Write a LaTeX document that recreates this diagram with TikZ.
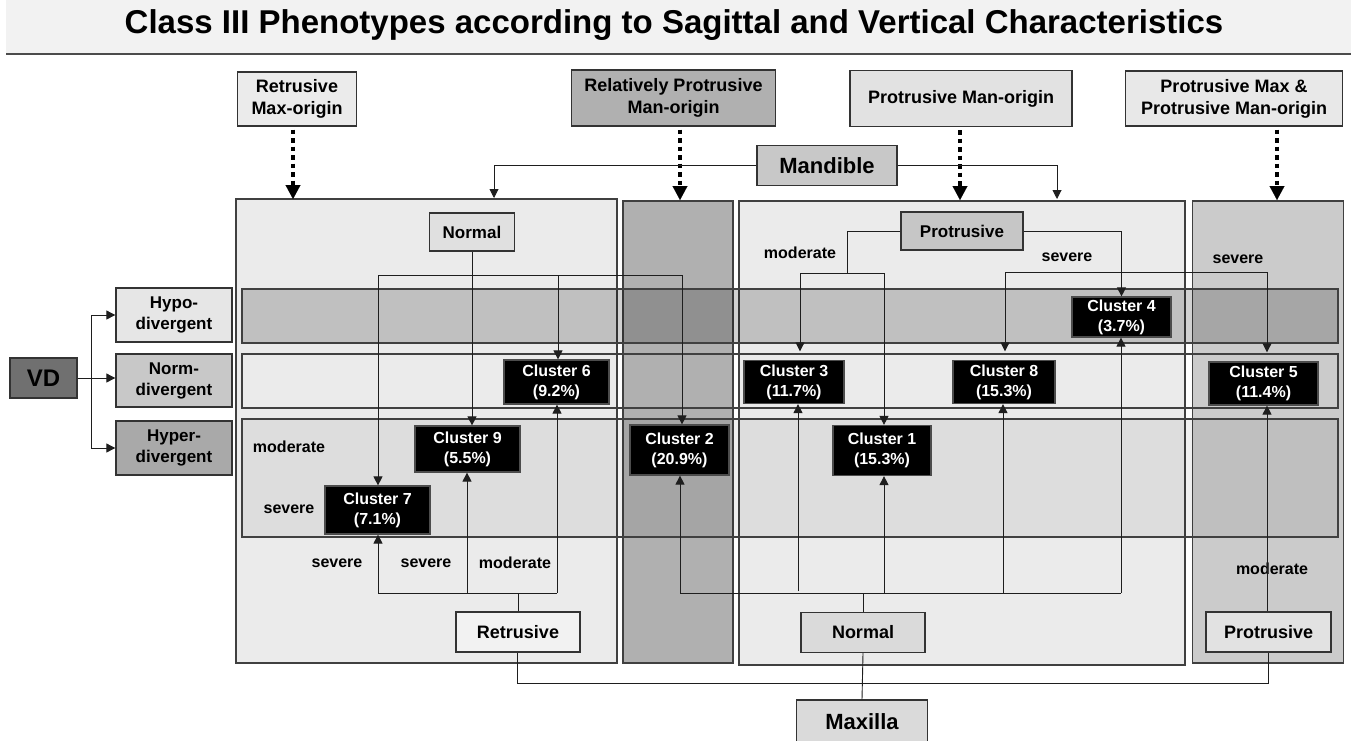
\documentclass[tikz,border=0pt]{standalone}
\usepackage{fontspec}
\setmainfont{Liberation Sans}
\usetikzlibrary{arrows.meta}
\definecolor{titlebg}{HTML}{F2F2F2}
\definecolor{cA}{HTML}{EBEBEB}
\definecolor{cB}{HTML}{B0B0B0}
\definecolor{cC}{HTML}{CBCBCB}
\definecolor{cD}{HTML}{E2E2E2}
\definecolor{cE}{HTML}{E8E8E8}
\definecolor{cMand}{HTML}{C8C8C8}
\definecolor{cNt}{HTML}{E0E0E0}
\definecolor{cPt}{HTML}{C6C6C6}
\definecolor{cRb}{HTML}{F2F2F2}
\definecolor{cNb}{HTML}{DADADA}
\definecolor{cPb}{HTML}{E2E2E2}
\definecolor{cVD}{HTML}{707070}
\definecolor{cHypo}{HTML}{E6E6E6}
\definecolor{cNorm}{HTML}{C8C8C8}
\definecolor{cHyper}{HTML}{A9A9A9}
\definecolor{lineC}{HTML}{1E1E1E}
\tikzset{
  bx/.style={draw=black!80, line width=1.3pt, inner sep=0pt, align=center, text=black,
    font=\bfseries\fontsize{18}{22}\selectfont},
  cl/.style={draw=black!70, line width=1.2pt, fill=black, text=white, inner sep=0pt, align=center,
    font=\bfseries\fontsize{16}{20}\selectfont},
  pnl/.style={draw=black!75, line width=1.5pt, inner sep=0pt},
  band/.style={draw=black!75, line width=1.4pt, inner sep=0pt},
  lbl/.style={font=\bfseries\fontsize{16}{19}\selectfont, inner sep=0pt, text=black},
  arr/.style={draw=lineC, line width=0.9pt, -{Triangle[length=9pt,width=9pt]}},
  ln/.style={draw=lineC, line width=0.9pt},
  dotarr/.style={draw=black, line width=4.5pt, dash pattern=on 4.5pt off 4pt, shorten <=3pt,
    -{Triangle[length=14pt,width=15pt,line width=0.1pt]}},
  sz/.style 2 args={minimum width=#1pt, minimum height=#2pt},
}
\begin{document}
\begin{tikzpicture}[x=1pt,y=-1pt]
\useasboundingbox (0,0) rectangle (1351,740);
% title
\fill[titlebg] (6,0) rectangle (1351,53);
\draw[line width=2pt, black!70] (6,54) -- (1351,54);
\node[font=\bfseries\fontsize{33}{37}\selectfont, inner sep=0pt] (title) at (674,25)
  {Class III Phenotypes according to Sagittal and Vertical Characteristics};

% panels
\node[pnl, fill=cA, sz={381}{464}] (lp) at (426.5,431) {};
\node[pnl, fill=cB, sz={110}{462}] (mc) at (678,432) {};
\node[pnl, fill=cA, sz={446}{464}] (cp) at (962,433) {};
\node[pnl, fill=cC, sz={151}{462}] (rp) at (1268,432) {};

% bands
\node[band, fill=black, fill opacity=0.18, sz={1096}{54}] (hypoB) at (790,316) {};
\node[band, sz={1096}{54}] (normB) at (790,381) {};
\node[band, fill=black, fill opacity=0.06, sz={1096}{118}] (hyperB) at (790,478) {};

% top boxes
\node[bx, fill=cA, sz={119}{54}] (rmax) at (297,99) {Retrusive\\Max-origin};
\node[bx, fill=cB, sz={204}{56}] (rpman) at (673.5,98) {Relatively Protrusive\\Man-origin};
\node[bx, fill=cD, sz={222}{56}] (pman) at (961,98.5) {Protrusive Man-origin};
\node[bx, fill=cE, sz={217}{55}] (pmax) at (1234,98.5) {Protrusive Max \&\\Protrusive Man-origin};

\node[bx, fill=cMand, sz={140}{40}, font=\bfseries\fontsize{22}{26}\selectfont] (mand) at (827,165.5) {Mandible};

% VD
\node[bx, fill=cVD, sz={67}{40}, font=\bfseries\fontsize{24}{28}\selectfont] (vd) at (43.5,378) {VD};
\node[bx, fill=cHypo, sz={116}{54}, font=\bfseries\fontsize{17}{21}\selectfont] (hypoD) at (174,315) {Hypo-\\divergent};
\node[bx, fill=cNorm, sz={116}{53}, font=\bfseries\fontsize{17}{21}\selectfont] (normD) at (174,380.5) {Norm-\\divergent};
\node[bx, fill=cHyper, sz={116}{54}, font=\bfseries\fontsize{17}{21}\selectfont] (hyperD) at (174,448) {Hyper-\\divergent};

% inner boxes
\node[bx, fill=cNt, sz={85}{38}, font=\bfseries\fontsize{17}{20}\selectfont] (nt) at (472,232) {Normal};
\node[bx, fill=cPt, sz={122}{38}, font=\bfseries\fontsize{17}{20}\selectfont] (pt) at (962,231) {Protrusive};
\node[bx, fill=cRb, sz={124}{40}] (rb) at (518,632) {Retrusive};
\node[bx, fill=cNb, sz={124}{40}] (nb) at (863,632.5) {Normal};
\node[bx, fill=cPb, sz={125}{40}] (pb) at (1268.5,632) {Protrusive};
\node[bx, fill=cNb, sz={131}{44}, font=\bfseries\fontsize{22}{26}\selectfont] (mx) at (862,722) {Maxilla};

% clusters
\node[cl, sz={105}{44}] (c6) at (556.5,382) {Cluster 6\\(9.2\%)};
\node[cl, sz={105}{46}] (c9) at (467.5,449) {Cluster 9\\(5.5\%)};
\node[cl, sz={105}{48}] (c7) at (377.5,510) {Cluster 7\\(7.1\%)};
\node[cl, sz={99}{50}] (c2) at (679.5,450) {Cluster 2\\(20.9\%)};
\node[cl, sz={100}{43}] (c3) at (794,382) {Cluster 3\\(11.7\%)};
\node[cl, sz={98}{50}] (c1) at (882,450.5) {Cluster 1\\(15.3\%)};
\node[cl, sz={102}{43}] (c8) at (1004,382) {Cluster 8\\(15.3\%)};
\node[cl, sz={99}{40}] (c4) at (1121.5,317) {Cluster 4\\(3.7\%)};
\node[cl, sz={109}{43}] (c5) at (1263.5,383.5) {Cluster 5\\(11.4\%)};

% labels
\node[lbl] (l1) at (800,253) {moderate};
\node[lbl] (l2) at (1067,257) {severe};
\node[lbl] (l3) at (1238,259) {severe};
\node[lbl] (l4) at (289,447) {moderate};
\node[lbl] (l5) at (289,509) {severe};
\node[lbl] (l6) at (337,563) {severe};
\node[lbl] (l7) at (426,563) {severe};
\node[lbl] (l8) at (515,563) {moderate};
\node[lbl] (l9) at (1272,569) {moderate};

% dotted arrows
\coordinate (t1) at (293,199);
\coordinate (t2) at (680,200);
\coordinate (t3) at (960,200);
\coordinate (t4) at (1277,200);
\draw[dotarr] (rmax.south -| t1) -- (t1);
\draw[dotarr] (rpman.south -| t2) -- (t2);
\draw[dotarr] (pman.south -| t3) -- (t3);
\draw[dotarr] (pmax.south -| t4) -- (t4);

% mandible branches
\coordinate (mL) at (494,198);
\coordinate (mR) at (1057,199);
\draw[arr] (mand.west) -| (mL);
\draw[arr] (mand.east) -| (mR);

% VD branches
\coordinate (v1) at (91,378);
\draw[ln] (vd.east) -- (v1);
\draw[arr] (v1) |- (hypoD.west);
\draw[arr] (vd.east) -- (vd.east -| normD.west);
\draw[arr] (v1) |- (hyperD.west);

% mandible normal
\coordinate (h1) at (378,275);
\coordinate (h2) at (682,275);
\coordinate (h3) at (558,275);
\draw[ln] (h1) -- (h2);
\draw[arr] (h1) -- (h1 |- c7.north);
\draw[arr] (h3) -- (h3 |- c6.north);
\draw[arr] (h2) -- (h2 |- c2.north);
\draw[arr] (nt.south) -- (nt.south |- c9.north);

% mandible protrusive
\coordinate (p1) at (847,273);
\coordinate (p2) at (800,273);
\coordinate (p3) at (884,273);
\draw[ln] (pt.west) -| (p1);
\draw[ln] (p2) -- (p3);
\draw[arr, shorten >=2pt] (p2) -- (p2 |- normB.north);
\draw[arr] (p3) -- (p3 |- c1.north);
\draw[arr] (pt.east) -| (c4.north);
\coordinate (s1) at (1005,272);
\coordinate (s2) at (1267,272);
\draw[ln] (s1) -- (s2);
\draw[arr, shorten >=2pt] (s1) -- (s1 |- normB.north);
\draw[arr, shorten >=1pt] (s2) -- (s2 |- normB.north);

% maxilla retrusive
\coordinate (b1) at (378,593);
\coordinate (b2) at (557,593);
\coordinate (b3) at (467,593);
\draw[ln] (b1) -- (b2);
\draw[ln] (rb.north) -- (rb.north |- b1);
\draw[arr] (b1) -- (b1 |- c7.south);
\draw[arr] (b3) -- (b3 |- c9.south);
\draw[arr] (b2) -- (b2 |- c6.south);

% maxilla normal
\coordinate (n1) at (680,593);
\coordinate (n2) at (1121,593);
\coordinate (n3) at (798,591);
\coordinate (n4) at (884,593);
\coordinate (n5) at (1003,593);
\draw[ln] (n1) -- (n2);
\draw[ln] (nb.north) -- (nb.north |- n1);
\draw[arr] (n1) -- (n1 |- c2.south);
\draw[arr] (n3) -- (n3 |- c3.south);
\draw[arr] (n4) -- (n4 |- c1.south);
\draw[arr] (n5) -- (n5 |- c8.south);
\draw[arr] (n2) -- (n2 |- c4.south);

% maxilla protrusive
\draw[arr] (pb.north -| s2) -- (s2 |- c5.south);

% maxilla trunk
\coordinate (m1) at (517,683);
\coordinate (m2) at (1268,683);
\draw[ln] (rb.south -| m1) -- (m1) -- (m2) -- (pb.south -| m2);
\draw[ln] (nb.south) -- (mx.north);
\end{tikzpicture}
\end{document}
